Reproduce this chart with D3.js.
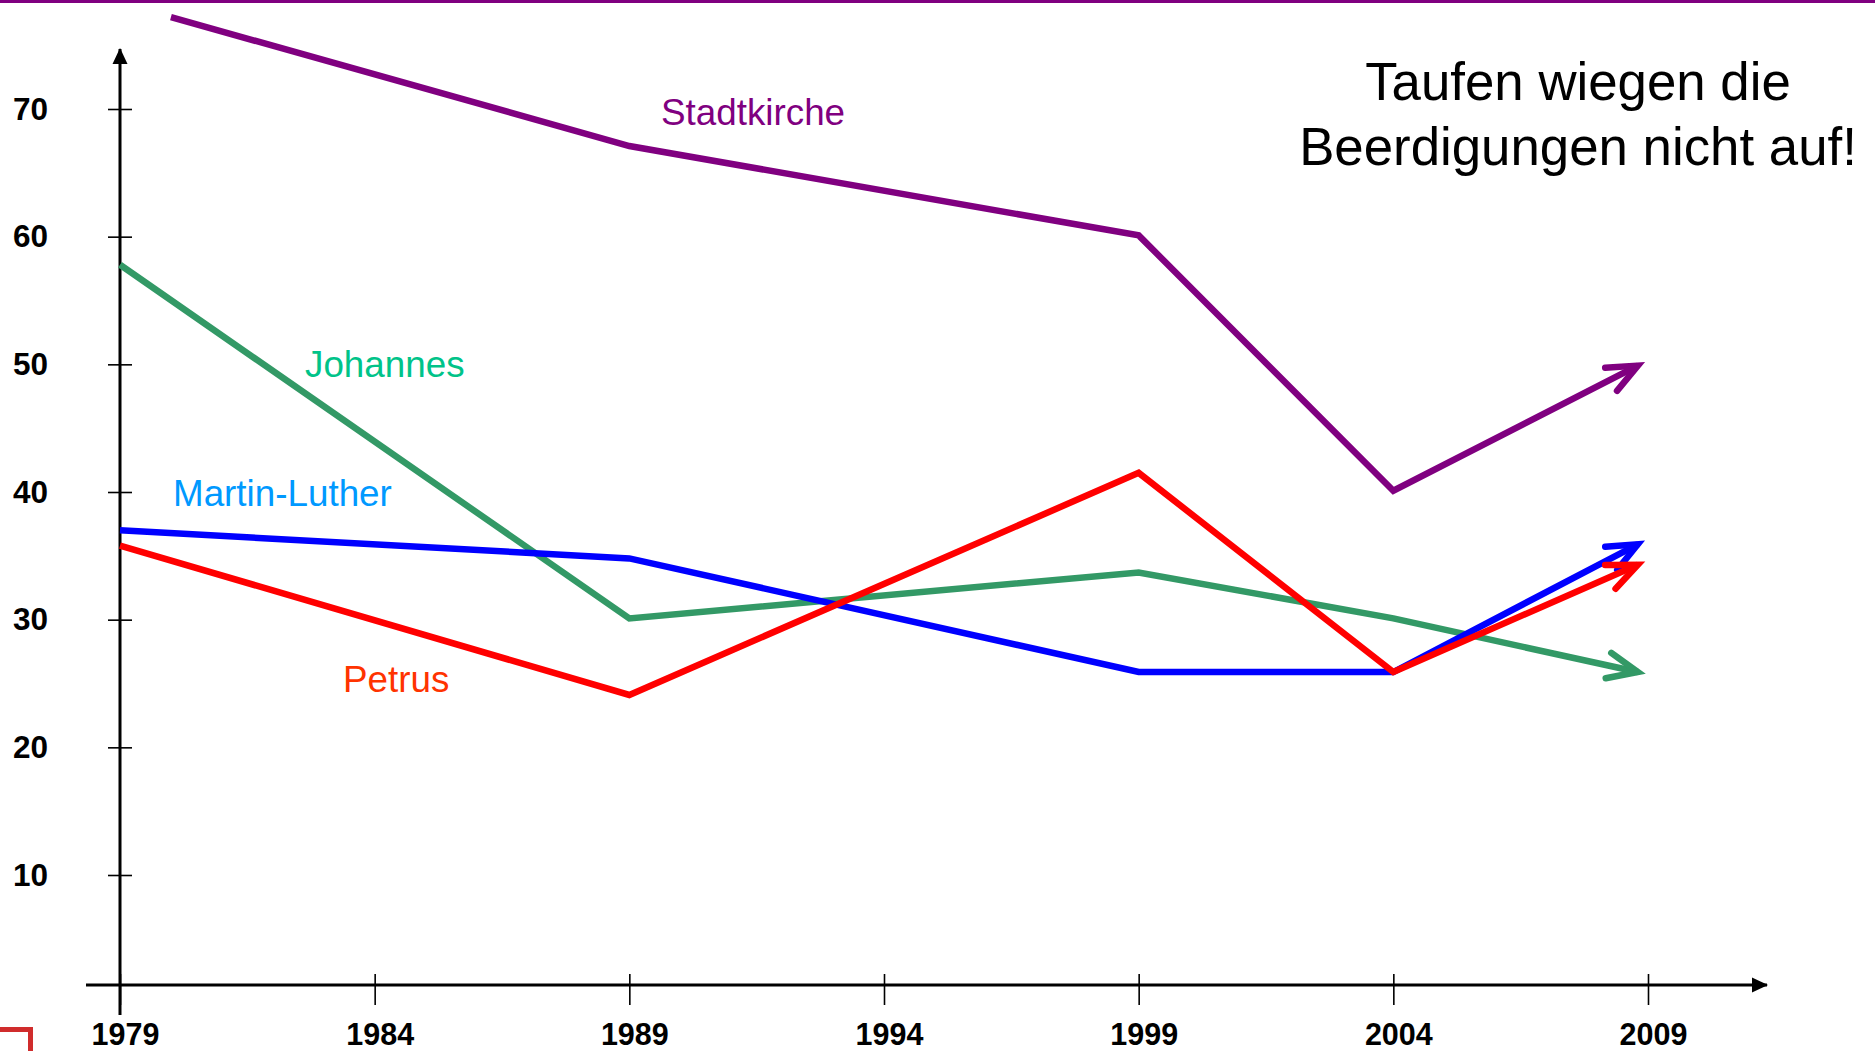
<!DOCTYPE html>
<html>
<head>
<meta charset="utf-8">
<script src="https://cdn.jsdelivr.net/npm/d3@7"></script>
<style>
    html, body { margin: 0; padding: 0; background: #fff; }
    svg { display: block; font-family: "Liberation Sans", Arial, sans-serif; }
</style>
</head>
<body>
<svg id="chart" width="1875" height="1051"></svg>
<script>
// years on the x axis
var xTicks = [1979, 1984, 1989, 1994, 1999, 2004, 2009];
var yTicks = [10, 20, 30, 40, 50, 60, 70];

// series values; the arrows stop just short of 2009
var stadtkircheYears = [1980, 1989, 1999, 2004, 2008.8];
var stadtkircheValues = [77.2, 67.1, 60.1, 40.1, 49.9];

var johannesYears = [1979, 1989, 1999, 2004, 2008.8];
var johannesValues = [57.8, 30.1, 33.7, 30.1, 25.9];

var martinLutherYears = [1979, 1989, 1999, 2004, 2008.8];
var martinLutherValues = [37.0, 34.8, 25.9, 25.9, 35.9];

var petrusYears = [1979, 1989, 1999, 2004, 2008.8];
var petrusValues = [35.8, 24.1, 41.5, 25.9, 34.3];

var seriesNames = ["Stadtkirche", "Johannes", "Martin-Luther", "Petrus"];
var titleLines = ["Taufen wiegen die", "Beerdigungen nicht auf!"];

var svg = d3.select("#chart");

var xScale = d3.scaleLinear().domain([1979, 2009]).range([120, 1648]);
var yScale = d3.scaleLinear().domain([10, 70]).range([875, 109]);

var axisY = 985;   // where the x axis sits
var axisX = 120;   // where the y axis sits

// top rule and the little red corner piece
svg.append("rect")
    .attr("x", 0).attr("y", 0)
    .attr("width", 1875).attr("height", 3)
    .attr("fill", "#800080");

svg.append("path")
    .attr("d", "M0,1029.5 H30.5 V1051")
    .attr("fill", "none")
    .attr("stroke", "#d02c2c")
    .attr("stroke-width", 5);

var defs = svg.append("defs");

defs.append("marker")
    .attr("id", "axisArrow")
    .attr("viewBox", "0 -8 16 16")
    .attr("refX", 15).attr("refY", 0)
    .attr("markerUnits", "userSpaceOnUse")
    .attr("markerWidth", 16).attr("markerHeight", 16)
    .attr("orient", "auto")
    .append("path")
    .attr("d", "M0,-7.5 L16,0 L0,7.5 Z")
    .attr("fill", "#000");

var colors = {
    "Stadtkirche": "#800080",
    "Johannes": "#339966",
    "Martin-Luther": "#0000ff",
    "Petrus": "#ff0000"
};

seriesNames.forEach(function (name, i) {
    defs.append("marker")
        .attr("id", "head" + i)
        .attr("viewBox", "-36 -18 48 36")
        .attr("refX", 0).attr("refY", 0)
        .attr("markerUnits", "userSpaceOnUse")
        .attr("markerWidth", 48).attr("markerHeight", 36)
        .attr("orient", "auto")
        .append("path")
        .attr("d", "M-30,-13 L0,0 L-30,13")
        .attr("fill", "none")
        .attr("stroke", colors[name])
        .attr("stroke-width", 6.5)
        .attr("stroke-linecap", "round")
        .attr("stroke-linejoin", "miter");
});

// x axis
var xAxis = d3.axisBottom(xScale)
    .tickValues(xTicks)
    .tickFormat(d3.format("d"))
    .tickSizeInner(20)
    .tickSizeOuter(0)
    .tickPadding(18);

var gx = svg.append("g")
    .attr("class", "axis axis-x")
    .attr("transform", "translate(0," + axisY + ")")
    .call(xAxis);

gx.select(".domain").remove();
gx.selectAll(".tick line")
    .attr("y1", -11)
    .attr("stroke", "#000")
    .attr("stroke-width", 1.6);
gx.selectAll(".tick text")
    .attr("dx", 5)
    .attr("fill", "#000")
    .style("font-size", "30.5px")
    .style("font-weight", "bold")
    .style("font-family", "'Liberation Sans', Arial, sans-serif");

// y axis
var yAxis = d3.axisLeft(yScale)
    .tickValues(yTicks)
    .tickFormat(d3.format("d"))
    .tickSizeInner(12)
    .tickSizeOuter(0)
    .tickPadding(60);

var gy = svg.append("g")
    .attr("class", "axis axis-y")
    .attr("transform", "translate(" + axisX + ",0)")
    .call(yAxis);

gy.select(".domain").remove();
gy.selectAll(".tick line")
    .attr("x1", 12)
    .attr("stroke", "#000")
    .attr("stroke-width", 1.6);
gy.selectAll(".tick text")
    .attr("fill", "#000")
    .style("font-size", "31.5px")
    .style("font-weight", "bold")
    .style("font-family", "'Liberation Sans', Arial, sans-serif");

// axis lines with arrow heads
svg.append("line")
    .attr("x1", 86).attr("y1", axisY)
    .attr("x2", 1767).attr("y2", axisY)
    .attr("stroke", "#000")
    .attr("stroke-width", 3)
    .attr("marker-end", "url(#axisArrow)");

svg.append("line")
    .attr("x1", axisX).attr("y1", 1015)
    .attr("x2", axisX).attr("y2", 49)
    .attr("stroke", "#000")
    .attr("stroke-width", 3)
    .attr("marker-end", "url(#axisArrow)");

// series lines
var seriesData = [
    d3.zip(stadtkircheYears, stadtkircheValues),
    d3.zip(johannesYears, johannesValues),
    d3.zip(martinLutherYears, martinLutherValues),
    d3.zip(petrusYears, petrusValues)
];

var valueline = d3.line()
    .x(function (d) { return xScale(d[0]); })
    .y(function (d) { return yScale(d[1]); });

// draw order: purple, green, blue, red (red sits on top)
seriesData.forEach(function (data, i) {
    svg.append("path")
        .datum(data)
        .attr("class", "line data")
        .attr("d", valueline)
        .attr("fill", "none")
        .attr("stroke", colors[seriesNames[i]])
        .attr("stroke-width", 6.5)
        .attr("stroke-linejoin", "miter")
        .attr("marker-end", "url(#head" + i + ")");
});

// series labels
var labelColors = ["#800080", "#00c389", "#0099ff", "#ff3300"];
var labelPos = [[661, 125], [305, 377], [173, 506], [343, 692]];

seriesNames.forEach(function (name, i) {
    svg.append("text")
        .attr("x", labelPos[i][0])
        .attr("y", labelPos[i][1])
        .attr("fill", labelColors[i])
        .style("font-size", "36.8px")
        .text(name);
});

// title
svg.append("text")
    .attr("text-anchor", "middle")
    .attr("fill", "#000")
    .style("font-size", "52.8px")
    .selectAll("tspan")
    .data(titleLines)
    .enter().append("tspan")
    .attr("x", 1578)
    .attr("y", function (d, i) { return 100 + i * 65; })
    .text(function (d) { return d; });
</script>
</body>
</html>
